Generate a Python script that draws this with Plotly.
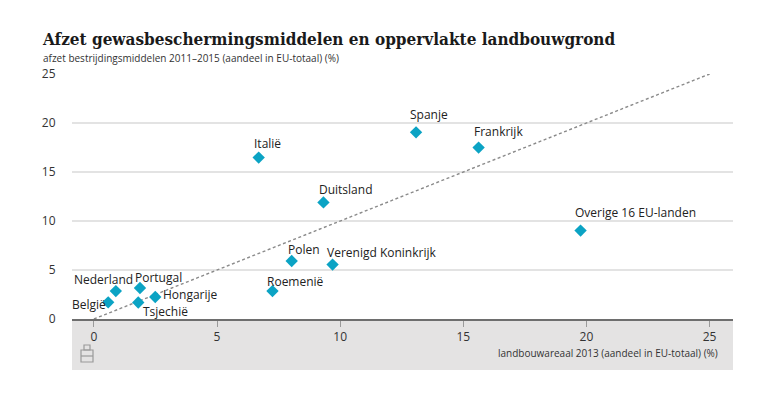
import plotly.graph_objects as go

# ---- data ----
countries = ["België", "Nederland", "Portugal", "Tsjechië", "Hongarije", "Roemenië",
             "Polen", "Verenigd Koninkrijk", "Duitsland", "Italië", "Spanje",
             "Frankrijk", "Overige 16 EU-landen"]
landbouwareaal = [0.58, 0.89, 1.87, 1.80, 2.49, 7.25, 8.03, 9.69, 9.32, 6.69, 13.08, 15.62, 19.76]
afzet = [1.70, 2.85, 3.16, 1.68, 2.25, 2.85, 5.92, 5.55, 11.9, 16.47, 19.05, 17.49, 9.02]
x_ticks = [0, 5, 10, 15, 20, 25]
y_ticks = [0, 5, 10, 15, 20, 25]
ref_line = [0, 25]

# label placement styles: (xanchor, xshift, yshift)
label_style = {
    "België": ("right", 0, -2),
    "Nederland": ("right", 19, 12),
    "Portugal": ("left", -7, 11),
    "Tsjechië": ("left", 3, -9),
    "Hongarije": ("left", 6, 2),
    "Roemenië": ("left", -7, 10),
    "Polen": ("left", -6, 11),
    "Verenigd Koninkrijk": ("left", -8, 12),
    "Duitsland": ("left", -6, 13),
    "Italië": ("left", -7, 14),
    "Spanje": ("left", -8, 18),
    "Frankrijk": ("left", -7, 16),
    "Overige 16 EU-landen": ("left", -8, 18),
}

FONT = "Open Sans"
W, H = 774, 401
L, R, T, B = 72, 41, 74, 82

fig = go.Figure()
fig.add_trace(go.Scatter(x=ref_line, y=ref_line, mode="lines",
                         line=dict(color="#8a8a8a", width=1.4, dash="3px,2.5px"),
                         hoverinfo="skip", showlegend=False))
fig.add_trace(go.Scatter(x=landbouwareaal, y=afzet, mode="markers", text=countries,
                         marker=dict(symbol="diamond", size=9.5, color="#0ba3c4"),
                         showlegend=False, cliponaxis=False))

annotations = []
for name, xv, yv in zip(countries, landbouwareaal, afzet):
    xa, xs, ys = label_style[name]
    annotations.append(dict(x=xv, y=yv, xref="x", yref="y", text=name, showarrow=False,
                            xanchor=xa, yanchor="middle", xshift=xs, yshift=ys,
                            font=dict(family=FONT, size=12, color="#222")))

pw = W - L - R
ph = H - T - B
def px(xp):
    return (xp - L) / pw
def py(yp):
    return (H - B - yp) / ph

annotations.append(dict(x=px(40), y=py(39), xref="paper", yref="paper",
                        text="<b>Afzet gewasbeschermingsmiddelen en oppervlakte landbouwgrond</b>",
                        showarrow=False, xanchor="left", yanchor="middle",
                        font=dict(family="DejaVu Serif Condensed", size=17, color="#1a1a1a")))
annotations.append(dict(x=px(41), y=py(58), xref="paper", yref="paper",
                        text="afzet bestrijdingsmiddelen 2011–2015 (aandeel in EU-totaal) (%)",
                        showarrow=False, xanchor="left", yanchor="middle",
                        font=dict(family=FONT, size=10, color="#333")))
annotations.append(dict(x=px(720), y=py(353), xref="paper", yref="paper",
                        text="landbouwareaal 2013 (aandeel in EU-totaal) (%)",
                        showarrow=False, xanchor="right", yanchor="middle",
                        font=dict(family=FONT, size=10, color="#333")))

shapes = [
    dict(type="rect", xref="paper", yref="paper", x0=0, x1=1, y0=py(370), y1=0,
         fillcolor="#e4e3e3", line=dict(width=0), layer="below"),
    # small logo
    dict(type="rect", xref="paper", yref="paper", x0=px(81), x1=px(93), y0=py(362), y1=py(350),
         fillcolor="rgba(0,0,0,0)", line=dict(width=1.2, color="#9a9a9a")),
    dict(type="line", xref="paper", yref="paper", x0=px(81), x1=px(93), y0=py(356), y1=py(356),
         line=dict(width=1.2, color="#9a9a9a")),
    dict(type="rect", xref="paper", yref="paper", x0=px(84), x1=px(90), y0=py(350), y1=py(345),
         fillcolor="rgba(0,0,0,0)", line=dict(width=1.2, color="#9a9a9a")),
]

fig.update_layout(
    width=W, height=H, margin=dict(l=L, r=R, t=T, b=B),
    paper_bgcolor="white", plot_bgcolor="white",
    annotations=annotations, shapes=shapes,
    xaxis=dict(range=[-0.89, 25.95], tickvals=x_ticks, showgrid=False, zeroline=False,
               showline=True, linecolor="#6e6e6e", linewidth=2,
               ticks="outside", ticklen=6, tickcolor="#9a9a9a", tickwidth=1,
               tickfont=dict(family=FONT, size=12, color="#333")),
    yaxis=dict(range=[0, 25], tickvals=y_ticks, showgrid=True, gridcolor="#e3e3e3", gridwidth=1.5,
               zeroline=False, showline=False, ticks="outside", ticklen=13,
               tickcolor="rgba(0,0,0,0)", automargin=False,
               tickfont=dict(family=FONT, size=12, color="#333")),
    hovermode=False,
)

fig.write_html("out.html", config={"displayModeBar": False},
               post_script="document.body.style.margin='0';")
